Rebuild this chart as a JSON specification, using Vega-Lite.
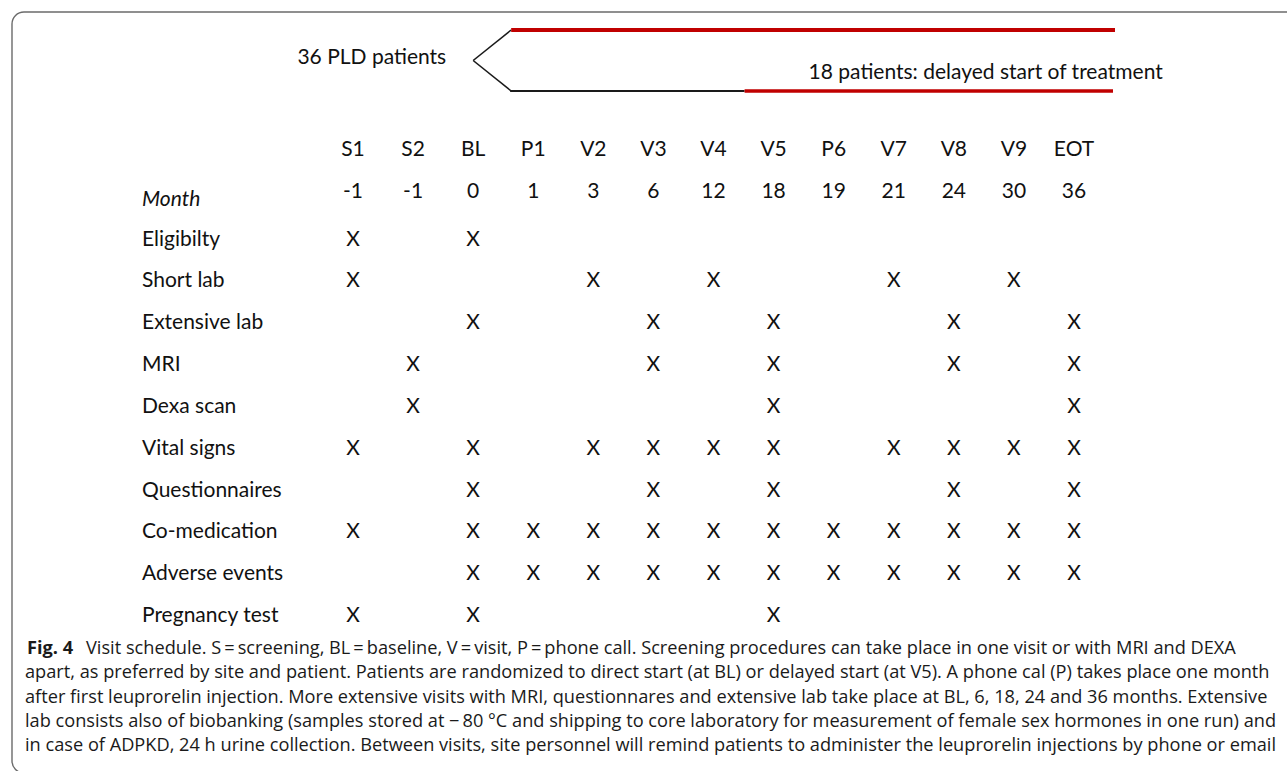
{
  "$schema": "https://vega.github.io/schema/vega-lite/v6.json",
  "width": 1287,
  "height": 771,
  "padding": 0,
  "autosize": {"type": "fit", "contains": "padding"},
  "background": "white",
  "config": {
    "view": {"stroke": null},
    "text": {"font": "Lato", "fontSize": 21, "color": "#111111"}
  },
  "datasets": {
    "visits": [
      {"visit": "S1", "month": "-1"},
      {"visit": "S2", "month": "-1"},
      {"visit": "BL", "month": "0"},
      {"visit": "P1", "month": "1"},
      {"visit": "V2", "month": "3"},
      {"visit": "V3", "month": "6"},
      {"visit": "V4", "month": "12"},
      {"visit": "V5", "month": "18"},
      {"visit": "P6", "month": "19"},
      {"visit": "V7", "month": "21"},
      {"visit": "V8", "month": "24"},
      {"visit": "V9", "month": "30"},
      {"visit": "EOT", "month": "36"}
    ],
    "procedures": [
      {"procedure": "Eligibilty"},
      {"procedure": "Short lab"},
      {"procedure": "Extensive lab"},
      {"procedure": "MRI"},
      {"procedure": "Dexa scan"},
      {"procedure": "Vital signs"},
      {"procedure": "Questionnaires"},
      {"procedure": "Co-medication"},
      {"procedure": "Adverse events"},
      {"procedure": "Pregnancy test"}
    ],
    "schedule": [
      {"procedure": "Eligibilty", "visit": "S1"},
      {"procedure": "Eligibilty", "visit": "BL"},
      {"procedure": "Short lab", "visit": "S1"},
      {"procedure": "Short lab", "visit": "V2"},
      {"procedure": "Short lab", "visit": "V4"},
      {"procedure": "Short lab", "visit": "V7"},
      {"procedure": "Short lab", "visit": "V9"},
      {"procedure": "Extensive lab", "visit": "BL"},
      {"procedure": "Extensive lab", "visit": "V3"},
      {"procedure": "Extensive lab", "visit": "V5"},
      {"procedure": "Extensive lab", "visit": "V8"},
      {"procedure": "Extensive lab", "visit": "EOT"},
      {"procedure": "MRI", "visit": "S2"},
      {"procedure": "MRI", "visit": "V3"},
      {"procedure": "MRI", "visit": "V5"},
      {"procedure": "MRI", "visit": "V8"},
      {"procedure": "MRI", "visit": "EOT"},
      {"procedure": "Dexa scan", "visit": "S2"},
      {"procedure": "Dexa scan", "visit": "V5"},
      {"procedure": "Dexa scan", "visit": "EOT"},
      {"procedure": "Vital signs", "visit": "S1"},
      {"procedure": "Vital signs", "visit": "BL"},
      {"procedure": "Vital signs", "visit": "V2"},
      {"procedure": "Vital signs", "visit": "V3"},
      {"procedure": "Vital signs", "visit": "V4"},
      {"procedure": "Vital signs", "visit": "V5"},
      {"procedure": "Vital signs", "visit": "V7"},
      {"procedure": "Vital signs", "visit": "V8"},
      {"procedure": "Vital signs", "visit": "V9"},
      {"procedure": "Vital signs", "visit": "EOT"},
      {"procedure": "Questionnaires", "visit": "BL"},
      {"procedure": "Questionnaires", "visit": "V3"},
      {"procedure": "Questionnaires", "visit": "V5"},
      {"procedure": "Questionnaires", "visit": "V8"},
      {"procedure": "Questionnaires", "visit": "EOT"},
      {"procedure": "Co-medication", "visit": "S1"},
      {"procedure": "Co-medication", "visit": "BL"},
      {"procedure": "Co-medication", "visit": "P1"},
      {"procedure": "Co-medication", "visit": "V2"},
      {"procedure": "Co-medication", "visit": "V3"},
      {"procedure": "Co-medication", "visit": "V4"},
      {"procedure": "Co-medication", "visit": "V5"},
      {"procedure": "Co-medication", "visit": "P6"},
      {"procedure": "Co-medication", "visit": "V7"},
      {"procedure": "Co-medication", "visit": "V8"},
      {"procedure": "Co-medication", "visit": "V9"},
      {"procedure": "Co-medication", "visit": "EOT"},
      {"procedure": "Adverse events", "visit": "BL"},
      {"procedure": "Adverse events", "visit": "P1"},
      {"procedure": "Adverse events", "visit": "V2"},
      {"procedure": "Adverse events", "visit": "V3"},
      {"procedure": "Adverse events", "visit": "V4"},
      {"procedure": "Adverse events", "visit": "V5"},
      {"procedure": "Adverse events", "visit": "P6"},
      {"procedure": "Adverse events", "visit": "V7"},
      {"procedure": "Adverse events", "visit": "V8"},
      {"procedure": "Adverse events", "visit": "V9"},
      {"procedure": "Adverse events", "visit": "EOT"},
      {"procedure": "Pregnancy test", "visit": "S1"},
      {"procedure": "Pregnancy test", "visit": "BL"},
      {"procedure": "Pregnancy test", "visit": "V5"}
    ],
    "cohort": [
      {"cohort": "all", "patients": 36, "label": "36 PLD patients", "randomized": "BL"}
    ],
    "arms": [
      {"arm": "direct", "parent": "all", "randomized": "BL", "patients": 18, "label": "18 patients: direct start of treatment"},
      {"arm": "delayed", "parent": "all", "randomized": "BL", "patients": 18, "label": "18 patients: delayed start of treatment", "start": "V5"}
    ],
    "phases": [
      {"arm": "direct", "phase": "treatment", "from": "BL", "to": "EOT"},
      {"arm": "delayed", "phase": "no treatment", "from": "BL", "to": "V5"},
      {"arm": "delayed", "phase": "treatment", "from": "V5", "to": "EOT"}
    ],
    "caption": [
      {"line": 1, "text": "Visit schedule. S\u2009=\u2009screening, BL\u2009=\u2009baseline, V\u2009=\u2009visit, P\u2009=\u2009phone call. Screening procedures can take place in one visit or with MRI and DEXA"},
      {"line": 2, "text": "apart, as preferred by site and patient. Patients are randomized to direct start (at BL) or delayed start (at V5). A phone cal (P) takes place one month"},
      {"line": 3, "text": "after first leuprorelin injection. More extensive visits with MRI, questionnares and extensive lab take place at BL, 6, 18, 24 and 36 months. Extensive"},
      {"line": 4, "text": "lab consists also of biobanking (samples stored at \u2212\u200980 \u00b0C and shipping to core laboratory for measurement of female sex hormones in one run) and"},
      {"line": 5, "text": "in case of ADPKD, 24 h urine collection. Between visits, site personnel will remind patients to administer the leuprorelin injections by phone or email"}
    ]
  },
  "layer": [
    {
      "data": {"values": [{"frame": "figure"}]},
      "mark": {"type": "rect", "filled": false, "stroke": "#6b6b6b", "strokeWidth": 1.4, "cornerRadius": 12},
      "encoding": {
        "x": {"field": "frame", "type": "nominal", "axis": null, "scale": {"type": "band", "domain": ["figure"], "range": [12, 1340], "padding": 0}},
        "y": {"field": "frame", "type": "nominal", "axis": null, "scale": {"type": "band", "domain": ["figure"], "range": [12, 773], "padding": 0}}
      }
    },
    {
      "data": {"name": "visits"},
      "mark": {"type": "text", "baseline": "middle", "align": "center", "dy": -6},
      "encoding": {
        "x": {"field": "visit", "type": "nominal", "axis": null, "scale": {"type": "point", "domain": ["S1","S2","BL","P1","V2","V3","V4","V5","P6","V7","V8","V9","EOT"], "range": [353, 1074], "padding": 0}},
        "y": {"datum": "Visit", "type": "nominal", "axis": null, "scale": {"type": "point", "domain": ["Visit","Month","Eligibilty","Short lab","Extensive lab","MRI","Dexa scan","Vital signs","Questionnaires","Co-medication","Adverse events","Pregnancy test"], "range": [156, 616], "padding": 0}},
        "text": {"field": "visit"}
      }
    },
    {
      "data": {"name": "visits"},
      "mark": {"type": "text", "baseline": "middle", "align": "center", "dy": -6},
      "encoding": {
        "x": {"field": "visit", "type": "nominal", "axis": null, "scale": {"type": "point", "domain": ["S1","S2","BL","P1","V2","V3","V4","V5","P6","V7","V8","V9","EOT"], "range": [353, 1074], "padding": 0}},
        "y": {"datum": "Month", "type": "nominal", "axis": null, "scale": {"type": "point", "domain": ["Visit","Month","Eligibilty","Short lab","Extensive lab","MRI","Dexa scan","Vital signs","Questionnaires","Co-medication","Adverse events","Pregnancy test"], "range": [156, 616], "padding": 0}},
        "text": {"field": "month"}
      }
    },
    {
      "data": {"values": [{"label": "Month"}]},
      "mark": {"type": "text", "baseline": "middle", "align": "left", "dx": -211, "dy": 2, "fontStyle": "italic"},
      "encoding": {
        "x": {"datum": "S1", "type": "nominal", "axis": null, "scale": {"type": "point", "domain": ["S1","S2","BL","P1","V2","V3","V4","V5","P6","V7","V8","V9","EOT"], "range": [353, 1074], "padding": 0}},
        "y": {"datum": "Month", "type": "nominal", "axis": null, "scale": {"type": "point", "domain": ["Visit","Month","Eligibilty","Short lab","Extensive lab","MRI","Dexa scan","Vital signs","Questionnaires","Co-medication","Adverse events","Pregnancy test"], "range": [156, 616], "padding": 0}},
        "text": {"field": "label"}
      }
    },
    {
      "data": {"name": "procedures"},
      "mark": {"type": "text", "baseline": "middle", "align": "left", "dx": -211},
      "encoding": {
        "x": {"datum": "S1", "type": "nominal", "axis": null, "scale": {"type": "point", "domain": ["S1","S2","BL","P1","V2","V3","V4","V5","P6","V7","V8","V9","EOT"], "range": [353, 1074], "padding": 0}},
        "y": {"field": "procedure", "type": "nominal", "axis": null, "scale": {"type": "point", "domain": ["Visit","Month","Eligibilty","Short lab","Extensive lab","MRI","Dexa scan","Vital signs","Questionnaires","Co-medication","Adverse events","Pregnancy test"], "range": [156, 616], "padding": 0}},
        "text": {"field": "procedure"}
      }
    },
    {
      "data": {"name": "schedule"},
      "mark": {"type": "text", "baseline": "middle", "align": "center", "text": "X"},
      "encoding": {
        "x": {"field": "visit", "type": "nominal", "axis": null, "scale": {"type": "point", "domain": ["S1","S2","BL","P1","V2","V3","V4","V5","P6","V7","V8","V9","EOT"], "range": [353, 1074], "padding": 0}},
        "y": {"field": "procedure", "type": "nominal", "axis": null, "scale": {"type": "point", "domain": ["Visit","Month","Eligibilty","Short lab","Extensive lab","MRI","Dexa scan","Vital signs","Questionnaires","Co-medication","Adverse events","Pregnancy test"], "range": [156, 616], "padding": 0}}
      }
    },
    {
      "data": {"name": "arms"},
      "mark": {"type": "rule", "color": "#1a1a1a", "strokeWidth": 1.6, "x2Offset": 38},
      "encoding": {
        "x": {"field": "randomized", "type": "nominal", "axis": null, "scale": {"type": "point", "domain": ["S1","S2","BL","P1","V2","V3","V4","V5","P6","V7","V8","V9","EOT"], "range": [353, 1074], "padding": 0}},
        "x2": {"field": "randomized"},
        "y": {"field": "parent", "type": "nominal", "axis": null, "scale": {"type": "point", "domain": ["direct","all","delayed"], "range": [30, 91], "padding": 0}},
        "y2": {"field": "arm"}
      }
    },
    {
      "data": {"name": "phases"},
      "transform": [{"filter": "datum.arm === 'direct'"}],
      "mark": {"type": "rule", "strokeWidth": 4, "xOffset": 38, "x2Offset": 41},
      "encoding": {
        "x": {"field": "from", "type": "nominal", "axis": null, "scale": {"type": "point", "domain": ["S1","S2","BL","P1","V2","V3","V4","V5","P6","V7","V8","V9","EOT"], "range": [353, 1074], "padding": 0}},
        "x2": {"field": "to"},
        "y": {"field": "arm", "type": "nominal", "axis": null, "scale": {"type": "point", "domain": ["direct","all","delayed"], "range": [30, 91], "padding": 0}},
        "color": {"field": "phase", "type": "nominal", "legend": null, "scale": {"domain": ["treatment", "no treatment"], "range": ["#c00000", "#1a1a1a"]}}
      }
    },
    {
      "data": {"name": "phases"},
      "transform": [{"filter": "datum.arm === 'delayed' && datum.phase === 'no treatment'"}],
      "mark": {"type": "rule", "strokeWidth": 2, "xOffset": 37, "x2Offset": -29},
      "encoding": {
        "x": {"field": "from", "type": "nominal", "axis": null, "scale": {"type": "point", "domain": ["S1","S2","BL","P1","V2","V3","V4","V5","P6","V7","V8","V9","EOT"], "range": [353, 1074], "padding": 0}},
        "x2": {"field": "to"},
        "y": {"field": "arm", "type": "nominal", "axis": null, "scale": {"type": "point", "domain": ["direct","all","delayed"], "range": [30, 91], "padding": 0}},
        "color": {"field": "phase", "type": "nominal", "legend": null, "scale": {"domain": ["treatment", "no treatment"], "range": ["#c00000", "#1a1a1a"]}}
      }
    },
    {
      "data": {"name": "phases"},
      "transform": [{"filter": "datum.arm === 'delayed' && datum.phase === 'treatment'"}],
      "mark": {"type": "rule", "strokeWidth": 3.5, "xOffset": -29, "x2Offset": 39},
      "encoding": {
        "x": {"field": "from", "type": "nominal", "axis": null, "scale": {"type": "point", "domain": ["S1","S2","BL","P1","V2","V3","V4","V5","P6","V7","V8","V9","EOT"], "range": [353, 1074], "padding": 0}},
        "x2": {"field": "to"},
        "y": {"field": "arm", "type": "nominal", "axis": null, "scale": {"type": "point", "domain": ["direct","all","delayed"], "range": [30, 91], "padding": 0}},
        "color": {"field": "phase", "type": "nominal", "legend": null, "scale": {"domain": ["treatment", "no treatment"], "range": ["#c00000", "#1a1a1a"]}}
      }
    },
    {
      "data": {"name": "cohort"},
      "mark": {"type": "text", "baseline": "middle", "align": "right", "dx": -27, "dy": -3},
      "encoding": {
        "x": {"field": "randomized", "type": "nominal", "axis": null, "scale": {"type": "point", "domain": ["S1","S2","BL","P1","V2","V3","V4","V5","P6","V7","V8","V9","EOT"], "range": [353, 1074], "padding": 0}},
        "y": {"field": "cohort", "type": "nominal", "axis": null, "scale": {"type": "point", "domain": ["direct","all","delayed"], "range": [30, 91], "padding": 0}},
        "text": {"field": "label"}
      }
    },
    {
      "data": {"name": "arms"},
      "transform": [{"filter": "datum.arm === 'delayed'"}],
      "mark": {"type": "text", "baseline": "middle", "align": "left", "dx": 35, "dy": -18},
      "encoding": {
        "x": {"field": "start", "type": "nominal", "axis": null, "scale": {"type": "point", "domain": ["S1","S2","BL","P1","V2","V3","V4","V5","P6","V7","V8","V9","EOT"], "range": [353, 1074], "padding": 0}},
        "y": {"field": "arm", "type": "nominal", "axis": null, "scale": {"type": "point", "domain": ["direct","all","delayed"], "range": [30, 91], "padding": 0}},
        "text": {"field": "label"}
      }
    },
    {
      "data": {"name": "caption"},
      "transform": [{"filter": "datum.line > 1"}],
      "mark": {"type": "text", "baseline": "middle", "align": "left", "font": "Open Sans", "fontSize": 18.2, "color": "#1a1a1a"},
      "encoding": {
        "x": {"datum": 0, "type": "quantitative", "axis": null, "scale": {"domain": [0, 1], "range": [25, 1272]}},
        "y": {"field": "line", "type": "ordinal", "axis": null, "scale": {"type": "point", "domain": [1, 2, 3, 4, 5], "range": [649, 746], "padding": 0}},
        "text": {"field": "text"}
      }
    },
    {
      "data": {"name": "caption"},
      "transform": [{"filter": "datum.line === 1"}],
      "mark": {"type": "text", "baseline": "middle", "align": "left", "font": "Open Sans", "fontSize": 18.2, "color": "#1a1a1a", "dx": 61},
      "encoding": {
        "x": {"datum": 0, "type": "quantitative", "axis": null, "scale": {"domain": [0, 1], "range": [25, 1272]}},
        "y": {"field": "line", "type": "ordinal", "axis": null, "scale": {"type": "point", "domain": [1, 2, 3, 4, 5], "range": [649, 746], "padding": 0}},
        "text": {"field": "text"}
      }
    },
    {
      "data": {"values": [{"line": 1, "label": "Fig. 4"}]},
      "mark": {"type": "text", "baseline": "middle", "align": "left", "font": "Open Sans", "fontSize": 18.2, "fontWeight": "bold", "color": "#1a1a1a", "dx": 2},
      "encoding": {
        "x": {"datum": 0, "type": "quantitative", "axis": null, "scale": {"domain": [0, 1], "range": [25, 1272]}},
        "y": {"field": "line", "type": "ordinal", "axis": null, "scale": {"type": "point", "domain": [1, 2, 3, 4, 5], "range": [649, 746], "padding": 0}},
        "text": {"field": "label"}
      }
    }
  ],
  "resolve": {"scale": {"x": "independent", "y": "independent"}}
}
